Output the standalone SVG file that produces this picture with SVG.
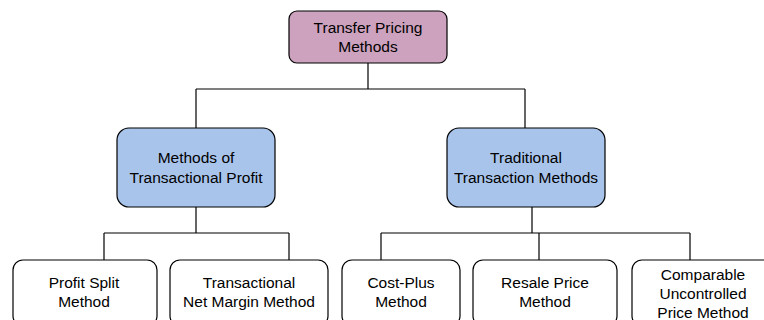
<svg xmlns="http://www.w3.org/2000/svg" width="764" height="320" viewBox="0 0 764 320">
<style>
.box{stroke:#000;stroke-width:1.2}
.top{fill:#cda2be}
.mid{fill:#a9c4eb}
.leaf{fill:#fff}
text{font-family:"Liberation Sans",Arial,Helvetica,sans-serif;font-size:15.5px;fill:#000;text-anchor:middle}
.edge{fill:none;stroke:#000;stroke-width:1.2}
</style>
<rect width="764" height="320" fill="#fff"/>
<g id="connectors">
<path class="edge" d="M368 63V89M196 89H525M196 89V128M525 89V128"/>
<path class="edge" d="M196 207V233M104 233H289M104 233V260M289 233V260"/>
<path class="edge" d="M532 207V233M381 233H690M381 233V260M539 233V260M690 233V260"/>
</g>
<g id="root">
<rect class="box top" x="289" y="11" width="158" height="52" rx="8"/>
<text x="368" y="33">Transfer Pricing</text>
<text x="368" y="52">Methods</text>
</g>
<g id="transactional-profit">
<rect class="box mid" x="117" y="128" width="158" height="79" rx="12"/>
<text x="196" y="163">Methods of</text>
<text x="196" y="183">Transactional Profit</text>
</g>
<g id="traditional">
<rect class="box mid" x="447" y="128" width="158" height="79" rx="12"/>
<text x="526" y="163">Traditional</text>
<text x="526" y="183">Transaction Methods</text>
</g>
<g id="profit-split">
<rect class="box leaf" x="13" y="260" width="144" height="66" rx="10"/>
<text x="84" y="288">Profit Split</text>
<text x="84" y="307">Method</text>
</g>
<g id="tnmm">
<rect class="box leaf" x="170" y="260" width="158" height="66" rx="10"/>
<text x="249" y="288">Transactional</text>
<text x="249" y="307">Net Margin Method</text>
</g>
<g id="cost-plus">
<rect class="box leaf" x="342" y="260" width="118" height="66" rx="10"/>
<text x="401" y="288">Cost-Plus</text>
<text x="401" y="307">Method</text>
</g>
<g id="resale-price">
<rect class="box leaf" x="473" y="260" width="144" height="66" rx="10"/>
<text x="545" y="288">Resale Price</text>
<text x="545" y="307">Method</text>
</g>
<g id="cup">
<rect class="box leaf" x="632" y="260" width="142" height="66" rx="10"/>
<text x="703" y="280">Comparable</text>
<text x="703" y="299">Uncontrolled</text>
<text x="703" y="318">Price Method</text>
</g>
</svg>
